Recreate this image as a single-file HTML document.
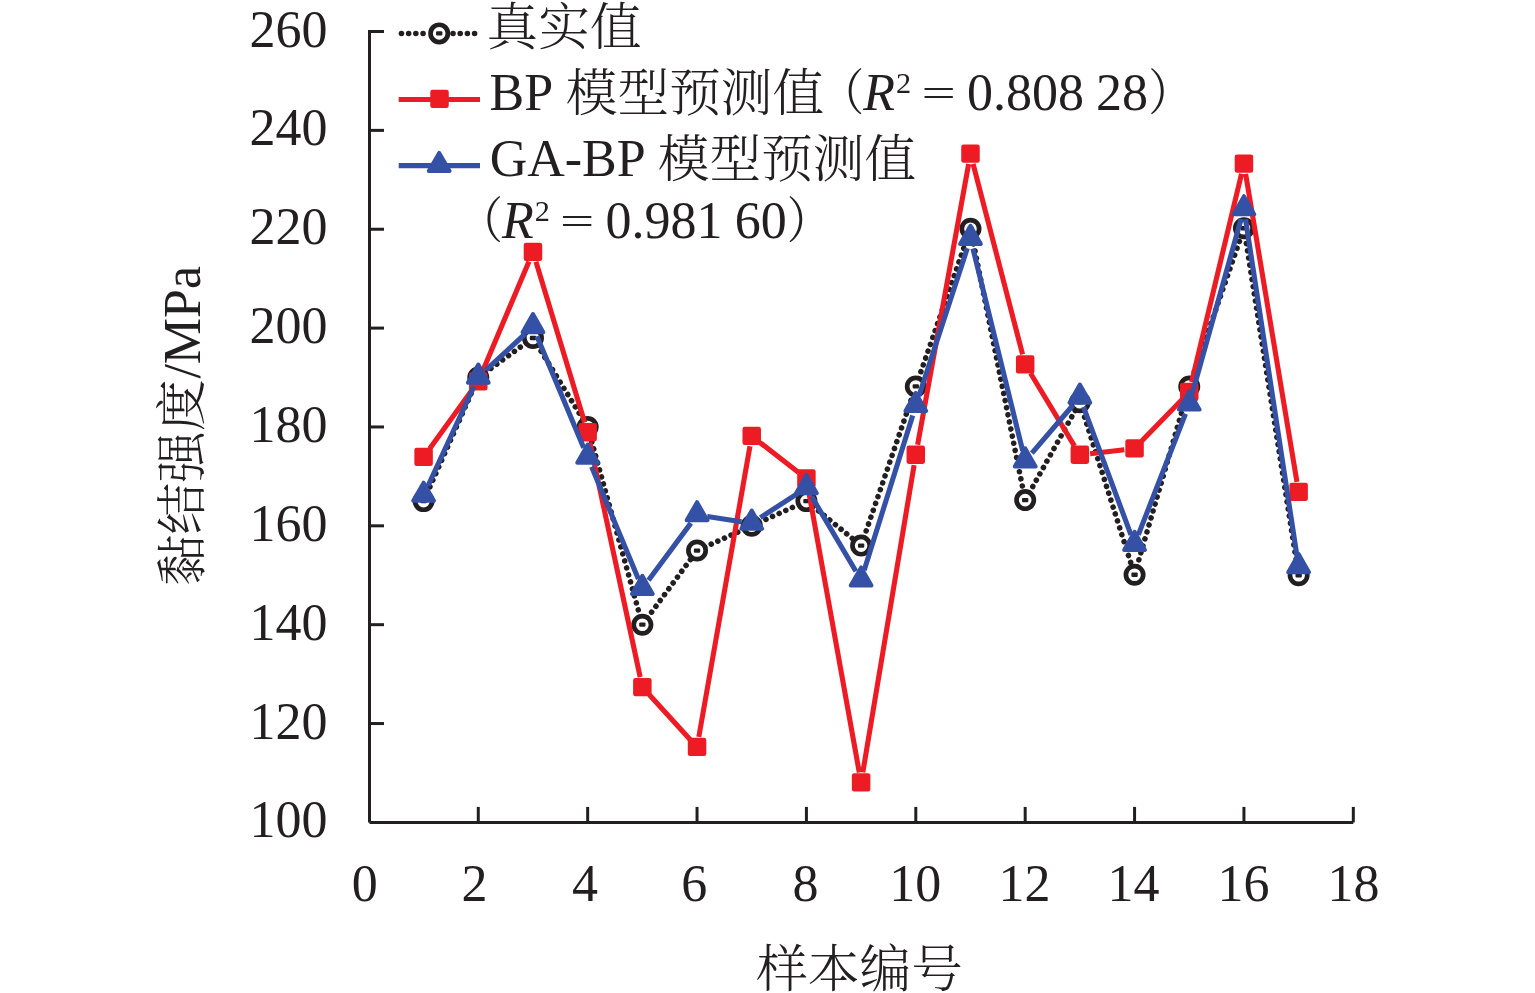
<!DOCTYPE html>
<html lang="zh"><head><meta charset="utf-8"><title>chart</title>
<style>
html,body{margin:0;padding:0;background:#fff;}
body{width:1535px;height:993px;overflow:hidden;}
svg{display:block;}
text{fill:#231f20;}
</style></head><body>
<svg width="1535" height="993" viewBox="0 0 1535 993">
<rect width="1535" height="993" fill="#fff"/>

<g stroke="#231f20" stroke-width="3.0" fill="none" stroke-linecap="butt">
<path d="M384.0,31.52 H369.5 M369.5,30.02 V822.4 M369.5,822.4 H1353.32"/>
<path d="M369.5,723.54 h14.5"/>
<path d="M369.5,624.68 h14.5"/>
<path d="M369.5,525.82 h14.5"/>
<path d="M369.5,426.96 h14.5"/>
<path d="M369.5,328.10 h14.5"/>
<path d="M369.5,229.24 h14.5"/>
<path d="M369.5,130.38 h14.5"/>
<path d="M478.28,822.4 v-15.5"/>
<path d="M587.66,822.4 v-15.5"/>
<path d="M697.04,822.4 v-15.5"/>
<path d="M806.42,822.4 v-15.5"/>
<path d="M915.80,822.4 v-15.5"/>
<path d="M1025.18,822.4 v-15.5"/>
<path d="M1134.56,822.4 v-15.5"/>
<path d="M1243.94,822.4 v-15.5"/>
<path d="M1353.32,822.4 v-15.5"/>
</g>
<text x="486.55" y="44.95" font-family="Liberation Serif, Noto Serif CJK SC, serif" font-size="51.7" font-weight="300">真实值</text>
<text x="489.50" y="110.00" font-family="Liberation Serif, Noto Serif CJK SC, serif" font-size="52.0">BP</text>
<text x="565.80" y="110.60" font-family="Liberation Serif, Noto Serif CJK SC, serif" font-size="51.7" font-weight="300">模型预测值</text>
<text x="489.65" y="175.90" font-family="Liberation Serif, Noto Serif CJK SC, serif" font-size="52.0">GA-BP</text>
<text x="657.80" y="176.95" font-family="Liberation Serif, Noto Serif CJK SC, serif" font-size="51.7" font-weight="300">模型预测值</text>
<text transform="translate(819.86,109.84) scale(0.88,0.98)" font-family="Liberation Serif, Noto Serif CJK SC, serif" font-size="50.5" font-weight="400">（</text>
<text x="863.35" y="110.00" font-family="Liberation Serif, Noto Serif CJK SC, serif" font-size="52.0" font-style="italic">R</text>
<text x="896.05" y="92.90" font-family="Liberation Serif, Noto Serif CJK SC, serif" font-size="30.3">2</text>
<text x="966.90" y="110.00" font-family="Liberation Serif, Noto Serif CJK SC, serif" font-size="52.0">0.808</text>
<text x="1095.95" y="110.00" font-family="Liberation Serif, Noto Serif CJK SC, serif" font-size="52.0">28</text>
<text transform="translate(1148.14,109.92) scale(0.88,0.98)" font-family="Liberation Serif, Noto Serif CJK SC, serif" font-size="50.5" font-weight="400">）</text>
<text transform="translate(458.56,237.74) scale(0.88,0.98)" font-family="Liberation Serif, Noto Serif CJK SC, serif" font-size="50.5" font-weight="400">（</text>
<text x="502.05" y="237.90" font-family="Liberation Serif, Noto Serif CJK SC, serif" font-size="52.0" font-style="italic">R</text>
<text x="534.75" y="220.80" font-family="Liberation Serif, Noto Serif CJK SC, serif" font-size="30.3">2</text>
<text x="605.60" y="237.90" font-family="Liberation Serif, Noto Serif CJK SC, serif" font-size="52.0">0.981</text>
<text x="734.65" y="237.90" font-family="Liberation Serif, Noto Serif CJK SC, serif" font-size="52.0">60</text>
<text transform="translate(786.84,237.82) scale(0.88,0.98)" font-family="Liberation Serif, Noto Serif CJK SC, serif" font-size="50.5" font-weight="400">）</text>
<text x="249.60" y="837.40" font-family="Liberation Serif, Noto Serif CJK SC, serif" font-size="52.0">100</text>
<text x="249.60" y="738.54" font-family="Liberation Serif, Noto Serif CJK SC, serif" font-size="52.0">120</text>
<text x="249.60" y="639.68" font-family="Liberation Serif, Noto Serif CJK SC, serif" font-size="52.0">140</text>
<text x="249.60" y="540.82" font-family="Liberation Serif, Noto Serif CJK SC, serif" font-size="52.0">160</text>
<text x="249.60" y="441.96" font-family="Liberation Serif, Noto Serif CJK SC, serif" font-size="52.0">180</text>
<text x="249.60" y="343.10" font-family="Liberation Serif, Noto Serif CJK SC, serif" font-size="52.0">200</text>
<text x="249.60" y="244.24" font-family="Liberation Serif, Noto Serif CJK SC, serif" font-size="52.0">220</text>
<text x="249.60" y="145.38" font-family="Liberation Serif, Noto Serif CJK SC, serif" font-size="52.0">240</text>
<text x="249.60" y="46.52" font-family="Liberation Serif, Noto Serif CJK SC, serif" font-size="52.0">260</text>
<text x="351.70" y="901.00" font-family="Liberation Serif, Noto Serif CJK SC, serif" font-size="52.0">0</text>
<text x="461.55" y="901.00" font-family="Liberation Serif, Noto Serif CJK SC, serif" font-size="52.0">2</text>
<text x="571.90" y="901.00" font-family="Liberation Serif, Noto Serif CJK SC, serif" font-size="52.0">4</text>
<text x="681.35" y="901.00" font-family="Liberation Serif, Noto Serif CJK SC, serif" font-size="52.0">6</text>
<text x="792.40" y="901.00" font-family="Liberation Serif, Noto Serif CJK SC, serif" font-size="52.0">8</text>
<text x="889.20" y="901.00" font-family="Liberation Serif, Noto Serif CJK SC, serif" font-size="52.0">10</text>
<text x="998.60" y="901.00" font-family="Liberation Serif, Noto Serif CJK SC, serif" font-size="52.0">12</text>
<text x="1107.40" y="901.00" font-family="Liberation Serif, Noto Serif CJK SC, serif" font-size="52.0">14</text>
<text x="1217.50" y="901.00" font-family="Liberation Serif, Noto Serif CJK SC, serif" font-size="52.0">16</text>
<text x="1327.60" y="901.00" font-family="Liberation Serif, Noto Serif CJK SC, serif" font-size="52.0">18</text>
<text x="756.15" y="986.98" font-family="Liberation Serif, Noto Serif CJK SC, serif" font-size="51.7" font-weight="300">样本编号</text>
<text transform="translate(921.39,106.10) scale(1.17,0.74)" font-family="Liberation Serif, Noto Serif CJK SC, serif" font-size="52.0">=</text>
<text transform="translate(560.09,234.00) scale(1.17,0.74)" font-family="Liberation Serif, Noto Serif CJK SC, serif" font-size="52.0">=</text>
<text transform="translate(200.3,586.1) rotate(-90)" font-family="Liberation Serif, Noto Serif CJK SC, serif" font-size="51.7" font-weight="300">黏结强度</text>
<text transform="translate(200.3,378.6) rotate(-90)" font-family="Liberation Serif, Noto Serif CJK SC, serif" font-size="52.0">/MPa</text>
<path d="M426.95,493.52L474.92,385.12M485.01,372.67L526.24,342.85M537.32,345.06L583.31,419.89M589.87,434.96L640.14,616.68M647.28,618.00L692.11,557.21M704.60,547.12L744.17,529.24M759.29,522.40L798.86,504.52M812.86,506.34L854.67,540.35M863.81,537.74L913.10,394.28M918.52,378.59L967.77,236.59M972.13,236.88L1023.54,491.98M1029.23,492.87L1075.82,409.49M1082.38,410.16L1132.05,566.84M1136.87,566.78L1186.94,394.40M1191.96,378.58L1241.23,236.10M1245.23,236.45L1297.34,567.05" fill="none" stroke="#231f20" stroke-width="5.6" stroke-linecap="round" stroke-dasharray="0.01 7.25"/>
<circle cx="423.59" cy="501.11" r="8.65" fill="#fff" stroke="#231f20" stroke-width="4.7"/><rect x="420.44" y="498.96" width="6.3" height="4.3" rx="1" fill="#231f20"/>
<circle cx="478.28" cy="377.53" r="8.65" fill="#fff" stroke="#231f20" stroke-width="4.7"/><rect x="475.13" y="375.38" width="6.3" height="4.3" rx="1" fill="#231f20"/>
<circle cx="532.97" cy="337.99" r="8.65" fill="#fff" stroke="#231f20" stroke-width="4.7"/><rect x="529.82" y="335.84" width="6.3" height="4.3" rx="1" fill="#231f20"/>
<circle cx="587.66" cy="426.96" r="8.65" fill="#fff" stroke="#231f20" stroke-width="4.7"/><rect x="584.51" y="424.81" width="6.3" height="4.3" rx="1" fill="#231f20"/>
<circle cx="642.35" cy="624.68" r="8.65" fill="#fff" stroke="#231f20" stroke-width="4.7"/><rect x="639.20" y="622.53" width="6.3" height="4.3" rx="1" fill="#231f20"/>
<circle cx="697.04" cy="550.54" r="8.65" fill="#fff" stroke="#231f20" stroke-width="4.7"/><rect x="693.89" y="548.39" width="6.3" height="4.3" rx="1" fill="#231f20"/>
<circle cx="751.73" cy="525.82" r="8.65" fill="#fff" stroke="#231f20" stroke-width="4.7"/><rect x="748.58" y="523.67" width="6.3" height="4.3" rx="1" fill="#231f20"/>
<circle cx="806.42" cy="501.11" r="8.65" fill="#fff" stroke="#231f20" stroke-width="4.7"/><rect x="803.27" y="498.96" width="6.3" height="4.3" rx="1" fill="#231f20"/>
<circle cx="861.11" cy="545.59" r="8.65" fill="#fff" stroke="#231f20" stroke-width="4.7"/><rect x="857.96" y="543.44" width="6.3" height="4.3" rx="1" fill="#231f20"/>
<circle cx="915.80" cy="386.43" r="8.65" fill="#fff" stroke="#231f20" stroke-width="4.7"/><rect x="912.65" y="384.28" width="6.3" height="4.3" rx="1" fill="#231f20"/>
<circle cx="970.49" cy="228.75" r="8.65" fill="#fff" stroke="#231f20" stroke-width="4.7"/><rect x="967.34" y="226.60" width="6.3" height="4.3" rx="1" fill="#231f20"/>
<circle cx="1025.18" cy="500.12" r="8.65" fill="#fff" stroke="#231f20" stroke-width="4.7"/><rect x="1022.03" y="497.97" width="6.3" height="4.3" rx="1" fill="#231f20"/>
<circle cx="1079.87" cy="402.25" r="8.65" fill="#fff" stroke="#231f20" stroke-width="4.7"/><rect x="1076.72" y="400.10" width="6.3" height="4.3" rx="1" fill="#231f20"/>
<circle cx="1134.56" cy="574.76" r="8.65" fill="#fff" stroke="#231f20" stroke-width="4.7"/><rect x="1131.41" y="572.61" width="6.3" height="4.3" rx="1" fill="#231f20"/>
<circle cx="1189.25" cy="386.43" r="8.65" fill="#fff" stroke="#231f20" stroke-width="4.7"/><rect x="1186.10" y="384.28" width="6.3" height="4.3" rx="1" fill="#231f20"/>
<circle cx="1243.94" cy="228.25" r="8.65" fill="#fff" stroke="#231f20" stroke-width="4.7"/><rect x="1240.79" y="226.10" width="6.3" height="4.3" rx="1" fill="#231f20"/>
<circle cx="1298.63" cy="575.25" r="8.65" fill="#fff" stroke="#231f20" stroke-width="4.7"/><rect x="1295.48" y="573.10" width="6.3" height="4.3" rx="1" fill="#231f20"/>
<path d="M429.63,448.77L472.24,389.83M482.29,372.00L528.96,261.47M535.96,261.83L584.67,422.54M589.82,442.47L640.19,677.14M649.30,694.81L690.09,739.42M698.82,736.87L749.95,446.25M759.86,442.43L798.29,472.29M808.24,488.75L859.29,772.47M862.81,772.45L914.10,465.05M917.64,444.75L968.65,163.99M973.08,163.83L1022.59,354.46M1030.51,373.25L1074.54,446.07M1090.10,453.69L1124.33,449.66M1141.73,441.07L1182.08,399.50M1191.65,382.10L1241.54,173.76M1245.63,173.91L1296.94,481.80" fill="none" stroke="#ed1c24" stroke-width="5.1"/>
<rect x="414.34" y="447.81" width="18.5" height="18.3" rx="2.3" fill="#ed1c24"/>
<rect x="469.03" y="372.18" width="18.5" height="18.3" rx="2.3" fill="#ed1c24"/>
<rect x="523.72" y="242.68" width="18.5" height="18.3" rx="2.3" fill="#ed1c24"/>
<rect x="578.41" y="423.10" width="18.5" height="18.3" rx="2.3" fill="#ed1c24"/>
<rect x="633.10" y="677.91" width="18.5" height="18.3" rx="2.3" fill="#ed1c24"/>
<rect x="687.79" y="737.72" width="18.5" height="18.3" rx="2.3" fill="#ed1c24"/>
<rect x="742.48" y="426.80" width="18.5" height="18.3" rx="2.3" fill="#ed1c24"/>
<rect x="797.17" y="469.31" width="18.5" height="18.3" rx="2.3" fill="#ed1c24"/>
<rect x="851.86" y="773.31" width="18.5" height="18.3" rx="2.3" fill="#ed1c24"/>
<rect x="906.55" y="445.59" width="18.5" height="18.3" rx="2.3" fill="#ed1c24"/>
<rect x="961.24" y="144.56" width="18.5" height="18.3" rx="2.3" fill="#ed1c24"/>
<rect x="1015.93" y="355.13" width="18.5" height="18.3" rx="2.3" fill="#ed1c24"/>
<rect x="1070.62" y="445.59" width="18.5" height="18.3" rx="2.3" fill="#ed1c24"/>
<rect x="1125.31" y="439.16" width="18.5" height="18.3" rx="2.3" fill="#ed1c24"/>
<rect x="1180.00" y="382.81" width="18.5" height="18.3" rx="2.3" fill="#ed1c24"/>
<rect x="1234.69" y="154.45" width="18.5" height="18.3" rx="2.3" fill="#ed1c24"/>
<rect x="1289.38" y="482.66" width="18.5" height="18.3" rx="2.3" fill="#ed1c24"/>
<path d="M427.92,485.97L473.95,386.53M485.85,370.20L525.40,333.75M536.95,336.26L583.68,447.76M591.62,466.77L638.39,578.99M648.49,580.23L690.90,523.12M707.22,516.41L741.55,521.69M760.36,517.63L797.79,493.28M811.66,496.52L855.87,571.23M864.19,570.27L912.72,415.43M919.00,395.82L967.29,248.32M972.95,248.53L1022.72,450.97M1031.89,453.15L1073.16,405.02M1083.46,406.86L1130.97,534.85M1138.30,534.91L1185.51,413.72M1192.03,394.21L1241.16,218.79M1245.50,219.06L1297.07,556.57" fill="none" stroke="#3451a6" stroke-width="5.1"/>
<path d="M423.59,482.62 L433.99,500.82 H413.19 Z" fill="#3451a6" stroke="#3451a6" stroke-width="4" stroke-linejoin="round"/>
<path d="M478.28,364.48 L488.68,382.68 H467.88 Z" fill="#3451a6" stroke="#3451a6" stroke-width="4" stroke-linejoin="round"/>
<path d="M532.97,314.07 L543.37,332.27 H522.57 Z" fill="#3451a6" stroke="#3451a6" stroke-width="4" stroke-linejoin="round"/>
<path d="M587.66,444.56 L598.06,462.76 H577.26 Z" fill="#3451a6" stroke="#3451a6" stroke-width="4" stroke-linejoin="round"/>
<path d="M642.35,575.80 L652.75,594.00 H631.95 Z" fill="#3451a6" stroke="#3451a6" stroke-width="4" stroke-linejoin="round"/>
<path d="M697.04,502.15 L707.44,520.35 H686.64 Z" fill="#3451a6" stroke="#3451a6" stroke-width="4" stroke-linejoin="round"/>
<path d="M751.73,510.55 L762.13,528.75 H741.33 Z" fill="#3451a6" stroke="#3451a6" stroke-width="4" stroke-linejoin="round"/>
<path d="M806.42,474.96 L816.82,493.16 H796.02 Z" fill="#3451a6" stroke="#3451a6" stroke-width="4" stroke-linejoin="round"/>
<path d="M861.11,567.39 L871.51,585.59 H850.71 Z" fill="#3451a6" stroke="#3451a6" stroke-width="4" stroke-linejoin="round"/>
<path d="M915.80,392.91 L926.20,411.11 H905.40 Z" fill="#3451a6" stroke="#3451a6" stroke-width="4" stroke-linejoin="round"/>
<path d="M970.49,225.83 L980.89,244.03 H960.09 Z" fill="#3451a6" stroke="#3451a6" stroke-width="4" stroke-linejoin="round"/>
<path d="M1025.18,448.27 L1035.58,466.47 H1014.78 Z" fill="#3451a6" stroke="#3451a6" stroke-width="4" stroke-linejoin="round"/>
<path d="M1079.87,384.50 L1090.27,402.70 H1069.47 Z" fill="#3451a6" stroke="#3451a6" stroke-width="4" stroke-linejoin="round"/>
<path d="M1134.56,531.80 L1144.96,550.00 H1124.16 Z" fill="#3451a6" stroke="#3451a6" stroke-width="4" stroke-linejoin="round"/>
<path d="M1189.25,391.42 L1199.65,409.62 H1178.85 Z" fill="#3451a6" stroke="#3451a6" stroke-width="4" stroke-linejoin="round"/>
<path d="M1243.94,196.17 L1254.34,214.37 H1233.54 Z" fill="#3451a6" stroke="#3451a6" stroke-width="4" stroke-linejoin="round"/>
<path d="M1298.63,554.05 L1309.03,572.25 H1288.23 Z" fill="#3451a6" stroke="#3451a6" stroke-width="4" stroke-linejoin="round"/>
<path d="M401.45,33.5 h22 M453,33.5 h22" fill="none" stroke="#231f20" stroke-width="5.6" stroke-linecap="round" stroke-dasharray="0.01 7.19"/>
<circle cx="439.20" cy="33.40" r="8.65" fill="#fff" stroke="#231f20" stroke-width="4.7"/><rect x="436.05" y="31.25" width="6.3" height="4.3" rx="1" fill="#231f20"/>
<path d="M398.7,99.55 H480" stroke="#ed1c24" stroke-width="5.1"/>
<rect x="430.25" y="89.70" width="18.5" height="18.3" rx="2.3" fill="#ed1c24"/>
<path d="M398.7,165.6 H480" stroke="#3451a6" stroke-width="5.1"/>
<path d="M439.20,152.90 L449.60,171.10 H428.80 Z" fill="#3451a6" stroke="#3451a6" stroke-width="4" stroke-linejoin="round"/>
</svg></body></html>
